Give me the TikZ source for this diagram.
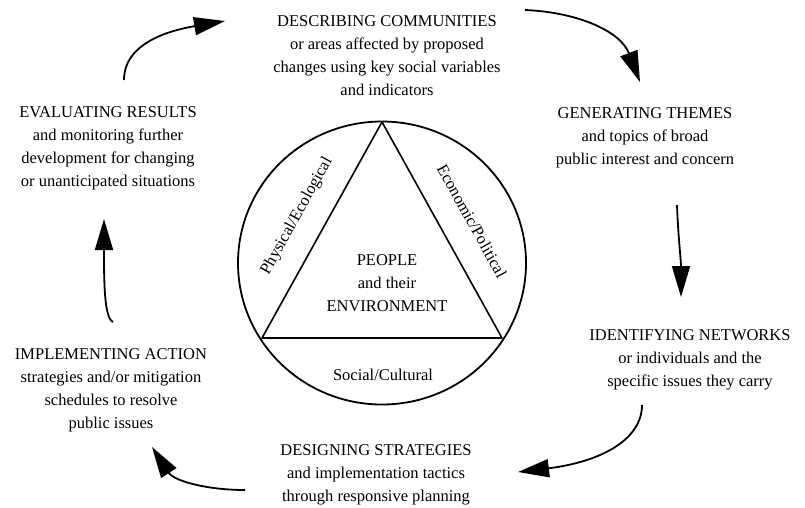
\documentclass[tikz,border=0pt]{standalone}
\usepackage{fontspec}
\setmainfont{Liberation Serif}
\usepackage{tikz}
\usetikzlibrary{arrows.meta}

\begin{document}
\begin{tikzpicture}[x=1pt,y=-1pt,font=\fontsize{16.5}{23}\selectfont,
  stage/.style={align=center,anchor=north,inner sep=0pt},
  side/.style={inner sep=0pt},
  flow/.style={line width=1.8pt,-{Triangle[length=31pt,width=18pt]}}]
\useasboundingbox (0,0) rectangle (805,507);
\coordinate (top) at (382,122);
\coordinate (left) at (262,338);
\coordinate (right) at (502,338);
\draw[line width=1.8pt] (382,263) ellipse [x radius=144pt,y radius=141.5pt];
\draw[line width=1.6pt,line join=round] (top) -- (left) -- (right) -- cycle;
\node[side,align=center] (people) at (387,283) {PEOPLE\\and their\\ENVIRONMENT};
\node[side,rotate=61] (phys) at (297,216) {Physical/Ecological};
\node[side,rotate=-61] (econ) at (472,221) {Economic/Political};
\node[side] (soc) at (383,375) {Social/Cultural};
\foreach \n/\x/\y/\txt in {
  desc/387/15.5/{DESCRIBING COMMUNITIES\\or areas affected by proposed\\changes using key social variables\\and indicators},
  gen/645/107.5/{GENERATING THEMES\\and topics of broad\\public interest and concern},
  net/690/329.5/{IDENTIFYING NETWORKS\\or individuals and the\\specific issues they carry},
  des/376/444.5/{DESIGNING STRATEGIES\\and implementation tactics\\through responsive planning},
  imp/111/348.5/{IMPLEMENTING ACTION\\strategies and/or mitigation\\schedules to resolve\\public issues},
  eval/108/106.5/{EVALUATING RESULTS\\and monitoring further\\development for changing\\or unanticipated situations}}
  \node[stage] (\n) at (\x,\y) {\txt};
\foreach \n/\x/\y in {eval-out/124/80, desc-in/225/21, desc-out/525/10, gen-in/640/82,
  gen-out/677/205, net-in/681/297, net-out/642/405, des-in/518/472,
  des-out/245/490, imp-in/152/447, imp-out/113/322, eval-in/104/219}
  \coordinate (\n) at (\x,\y);
\draw[flow] (eval-out) .. controls +(0,-38) and +(-53,9) .. (desc-in);
\draw[flow] (desc-out) .. controls +(50,2) and +(-20,-52) .. (gen-in);
\draw[flow] (gen-out) .. controls +(1,30) and +(0,-37) .. (net-in);
\draw[flow] (net-out) .. controls +(0,35) and +(82,-10) .. (des-in);
\draw[flow] (des-out) .. controls +(-38,0) and +(22,34) .. (imp-in);
\draw[flow] (imp-out) .. controls +(-9,-4) and +(0,61) .. (eval-in);
\end{tikzpicture}
\end{document}
